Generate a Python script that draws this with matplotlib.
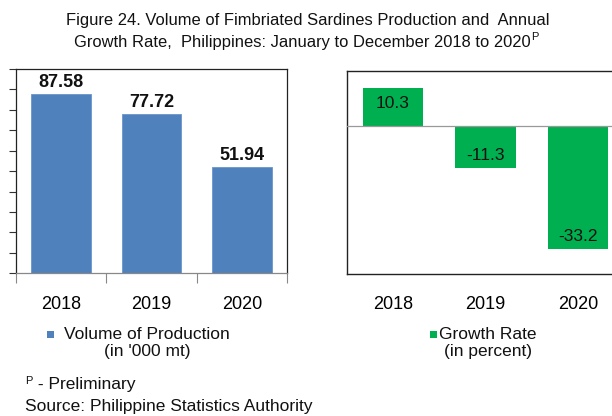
import matplotlib
matplotlib.use("Agg")
import matplotlib.pyplot as plt
from matplotlib.patches import Rectangle
from matplotlib import font_manager as fm

years = ["2018", "2019", "2020"]
volume = [87.58, 77.72, 51.94]
growth = [10.3, -11.3, -33.2]
volume_labels = ["87.58", "77.72", "51.94"]
growth_labels = ["10.3", "-11.3", "-33.2"]

BLUE = "#4F81BD"
GREEN = "#00B050"

def pick(names):
    for n in names:
        try:
            fm.findfont(n, fallback_to_default=False)
            return n
        except Exception:
            pass
    return "DejaVu Sans"

NARROW = pick(["Liberation Sans Narrow", "Arial Narrow", "Liberation Sans"])
REG = pick(["Liberation Sans", "Arial"])

plt.rcParams["font.family"] = [REG, "DejaVu Sans"]

fig = plt.figure(figsize=(6.12, 4.16), dpi=100)
W, H = 612, 416

def ax_rect(x0, y0, x1, y1):
    return [x0 / W, 1 - y1 / H, (x1 - x0) / W, (y1 - y0) / H]

# Left panel
ax1 = fig.add_axes(ax_rect(16, 68.9, 287, 273.3))
x = list(range(len(years)))
ax1.bar(x, volume, width=0.66, color=BLUE, edgecolor="#6A95CC", linewidth=0.6, zorder=2)
ax1.set_xlim(-0.5, 2.5)
ax1.set_ylim(0, 100)
ax1.set_yticks(range(0, 101, 10))
ax1.set_yticklabels([])
ax1.tick_params(axis="y", direction="out", length=5, width=0.8, color="#333333")
ax1.set_xticks(x)
ax1.set_xticklabels(years, fontsize=13)
ax1.tick_params(axis="x", which="major", length=0, pad=16)
ax1.set_xticks([-0.5, 0.5, 1.5, 2.5], minor=True)
ax1.tick_params(axis="x", which="minor", direction="out", length=7, width=0.8, color="#888888")
for s in ax1.spines.values():
    s.set_linewidth(0.9)
    s.set_color("#222222")
ax1.spines["bottom"].set_color("#888888")
for i, v in enumerate(volume):
    ax1.text(i, v + 1.5, volume_labels[i], ha="center", va="bottom",
             fontsize=13, fontweight="bold", color="#111111")

# Right panel
ax2 = fig.add_axes(ax_rect(346.5, 71, 624.5, 274))
ax2.bar(x, growth, width=0.65, color=GREEN, zorder=2)
ax2.set_xlim(-0.5, 2.5)
ax2.set_ylim(-40, 15)
ax2.axhline(0, color="#999999", linewidth=0.9, zorder=3)
ax2.set_yticks([])
ax2.set_xticks(x)
ax2.set_xticklabels(years, fontsize=13)
ax2.tick_params(axis="x", length=0, pad=16)
for s in ax2.spines.values():
    s.set_linewidth(1.0)
    s.set_color("#222222")
for i, v in enumerate(growth):
    off = -4.0 if v > 0 else 3.3
    ax2.text(i, v + off, growth_labels[i], ha="center", va="center",
             fontsize=12.5, color="#111111")

# Title
tfont = dict(family=[NARROW, "DejaVu Sans"], fontsize=11.9, color="#111111")
fig.text(308 / W, 1 - 20 / H, "Figure 24. Volume of Fimbriated Sardines Production and  Annual",
         ha="center", va="center", **tfont)
t2 = fig.text(302 / W, 1 - 42 / H, "Growth Rate,  Philippines: January to December 2018 to 2020",
              ha="center", va="center", **tfont)
fig.canvas.draw()
bb = t2.get_window_extent()
fig.text(bb.x1 / W + 0.001, 1 - 37 / H, "P", ha="left", va="center",
         family=[NARROW, "DejaVu Sans"], fontsize=8, color="#111111")

# Legends
lfont = dict(family=[NARROW, "DejaVu Sans"], fontsize=12.5, color="#111111")
fig.add_artist(Rectangle((47 / W, 1 - 338 / H), 7 / W, 7 / H, transform=fig.transFigure,
                         facecolor=BLUE, edgecolor="none"))
fig.text(147 / W, 1 - 343 / H, "Volume of Production\n(in '000 mt)", ha="center", va="center",
         multialignment="center", linespacing=1.15, **lfont)
fig.add_artist(Rectangle((430 / W, 1 - 338 / H), 7 / W, 7 / H, transform=fig.transFigure,
                         facecolor=GREEN, edgecolor="none"))
fig.text(488 / W, 1 - 343 / H, "Growth Rate\n(in percent)", ha="center", va="center",
         multialignment="center", linespacing=1.15, **lfont)

# Footer
fig.text(25 / W, 1 - 381 / H, "P", ha="left", va="center",
         family=[NARROW, "DejaVu Sans"], fontsize=8, color="#111111")
fig.text(33 / W, 1 - 385 / H, " - Preliminary", ha="left", va="center", **lfont)
fig.text(25 / W, 1 - 406 / H, "Source: Philippine Statistics Authority", ha="left", va="center", **lfont)

fig.savefig("out.png", dpi=100)
